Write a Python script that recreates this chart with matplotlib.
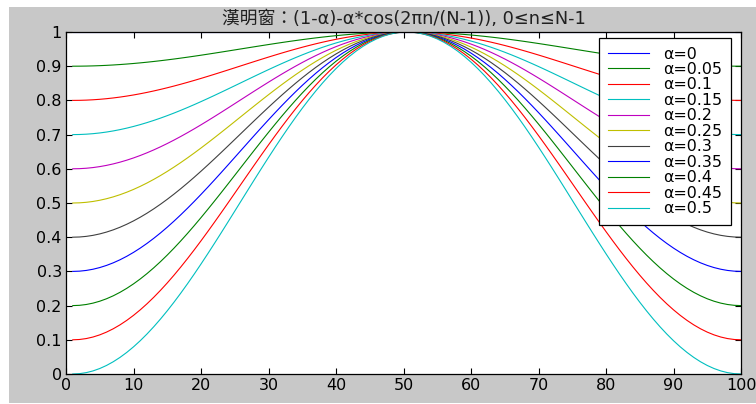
import numpy as np
import matplotlib
matplotlib.use('Agg')
import matplotlib.pyplot as plt
from matplotlib.patches import Rectangle

# window parameters
alphas = [0, 0.05, 0.1, 0.15, 0.2, 0.25, 0.3, 0.35, 0.4, 0.45, 0.5]
N = 100
n = np.arange(1, N + 1)
colors = ['#0000ff', '#008000', '#ff0000', '#00bfbf', '#bf00bf', '#bfbf00',
          '#404040', '#0000ff', '#008000', '#ff0000', '#00bfbf']
xticks = list(range(0, 101, 10))
yticks = [round(v * 0.1, 1) for v in range(11)]
ylabels = ['0', '0.1', '0.2', '0.3', '0.4', '0.5', '0.6', '0.7', '0.8', '0.9', '1']

fonts = ['DejaVu Sans', 'Noto Sans CJK TC']
plt.rcParams['font.family'] = fonts

fig = plt.figure(figsize=(7.56, 4.04), dpi=100)
fig.patch.set_facecolor('white')
fig.patches.append(Rectangle((9 / 756, 1 / 404), 747 / 756, 396 / 404,
                             transform=fig.transFigure, facecolor='#c8c8c8',
                             edgecolor='none', zorder=-10))

ax = fig.add_axes([66 / 756, 30 / 404, 675 / 756, 342 / 404])
ax.set_facecolor('white')

for a, c in zip(alphas, colors):
    w = (1 - a) - a * np.cos(2 * np.pi * (n - 1) / (N - 1))
    ax.plot(n, w, color=c, lw=0.8, label='α=%g' % a)

ax.set_xlim(0, 100)
ax.set_ylim(0, 1)
ax.set_xticks(xticks)
ax.set_yticks(yticks)
ax.set_yticklabels(ylabels)
ax.tick_params(direction='in', length=4, width=0.8, labelsize=11.5,
               top=True, right=True, pad=3, colors='black')
for s in ax.spines.values():
    s.set_linewidth(0.9)
    s.set_color('black')

ax.set_title('漢明窗：(1-α)-α*cos(2πn/(N-1)), 0≤n≤N-1', fontsize=12.8, pad=5.5,
             family=fonts, color='#202020')

leg = ax.legend(loc='upper right', bbox_to_anchor=(0.985, 0.983), fontsize=11.4,
                frameon=True, fancybox=False, handlelength=2.6, handletextpad=0.9,
                labelspacing=0.03, borderpad=0.55, borderaxespad=0)
leg.get_frame().set_edgecolor('black')
leg.get_frame().set_linewidth(0.9)
leg.get_frame().set_alpha(1)

fig.savefig('out.png', dpi=100, facecolor=fig.get_facecolor())
